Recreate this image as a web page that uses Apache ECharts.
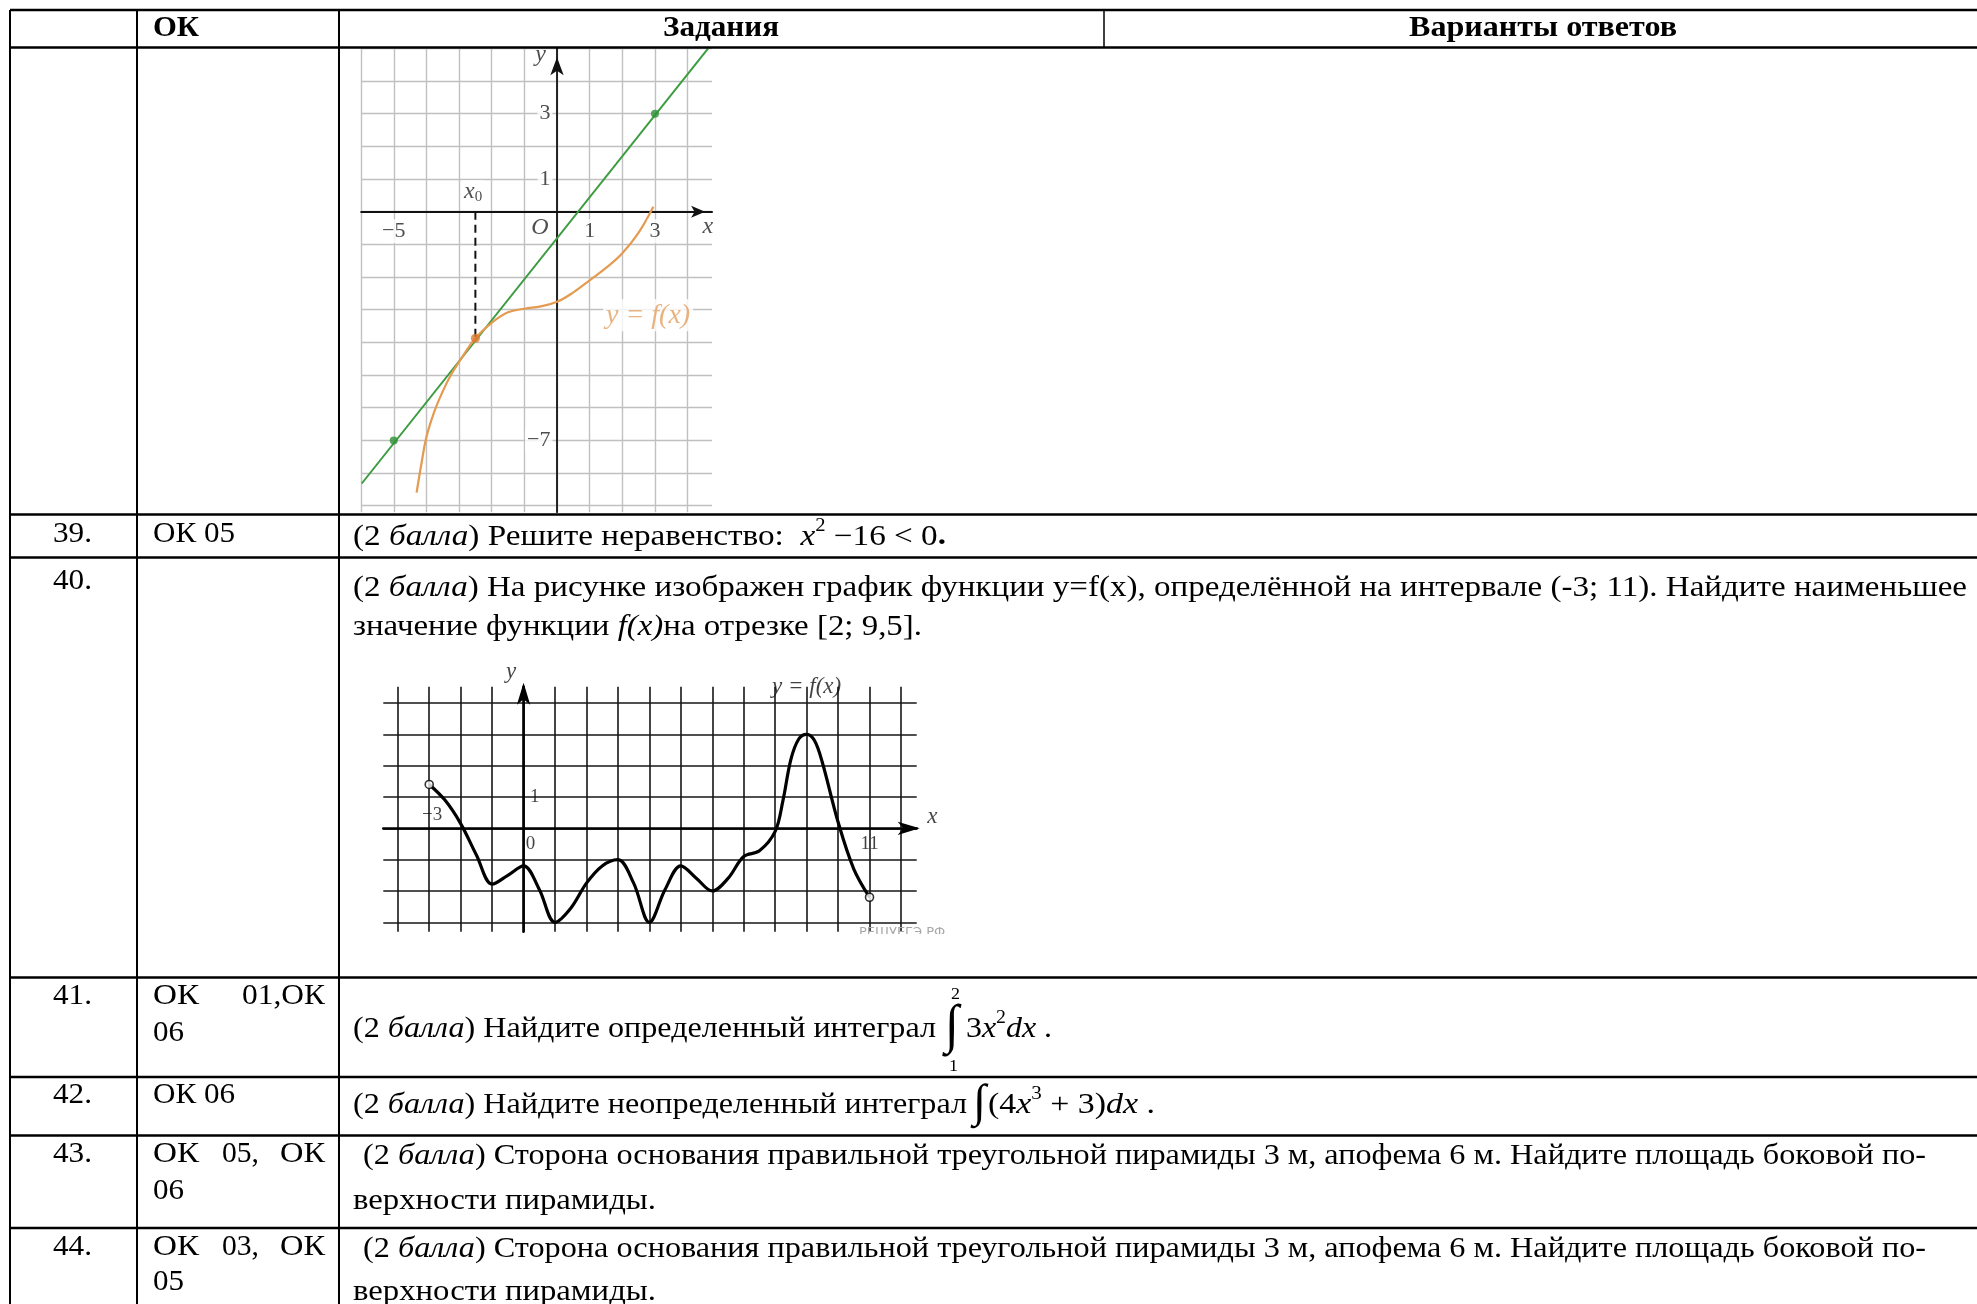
<!DOCTYPE html>
<html>
<head>
<meta charset="utf-8">
<script src="https://cdn.jsdelivr.net/npm/echarts@6.0.0/dist/echarts.min.js"></script>
<style>
  html, body { margin: 0; padding: 0; background: #fff; }
  #main { width: 1977px; height: 1304px; }
</style>
</head>
<body>
<div id="main"></div>
<script>
const FONT = '"Liberation Serif", "Times New Roman", serif';

// ---- график 1: касательная к y = f(x) в точке x0
const tangentLine = [[-5.98, -8.32], [4.63, 5.0]];
const tangentDots = [[-5, -7], [3, 3]];
const f1x = [-4.3, -4.15, -4.0, -3.75, -3.5, -3.25, -3.0, -2.5, -2.0, -1.5, -1.0, -0.5, 0, 0.5, 1.0, 1.5, 2.0, 2.5, 2.95];
const f1y = [-8.6, -7.7, -6.9, -6.1, -5.5, -5.0, -4.6, -3.875, -3.4, -3.08, -2.97, -2.9, -2.76, -2.47, -2.1, -1.72, -1.27, -0.64, 0.15];
const x0Point = [-2.5, -3.875];
const g1X = [-6, 4.75];
const g1Y = [-9.2, 5];
const g1XLabels = [-5, 1, 3];
const g1YLabels = [3, 1, -7];

// ---- график 2: y = f(x) на (-3; 11)
const f2x = [-3, -2.5, -2, -1.5, -1, -0.5, 0, 0.5, 1, 1.5, 2, 2.5, 3, 3.5, 4, 4.5, 5, 5.5, 6, 6.5, 7, 7.5, 8, 8.25, 8.5, 8.75, 9, 9.25, 9.5, 10, 10.5, 11];
const f2y = [1.4, 0.9, 0.15, -0.85, -1.78, -1.5, -1.2, -1.95, -3.0, -2.55, -1.75, -1.2, -1.0, -1.75, -3.0, -1.95, -1.2, -1.6, -2.0, -1.6, -0.9, -0.72, -0.1, 0.9, 2.2, 2.85, 3.0, 2.8, 2.1, 0.2, -1.3, -2.2];
const g2X = [-4.46, 12.5];
const g2Y = [-3.3, 4.52];
const g2XLabels = [0, 11];
const g2YLabels = [1];

// ---- таблица
const rowLines = [10, 47.5, 514.5, 557.5, 977.5, 1077, 1135.5, 1228];
const colLines = [10, 137, 339];
const headSplit = 1104;

// стили текста
const ST = {
  n: {size: 29},
  i: {size: 29, style: 'italic'},
  b: {size: 29, weight: 'bold'},
  h: {size: 29, weight: 'bold'},
  sup: {size: 18, dy: -11},
  int1: {size: 54},
  int2: {size: 46},
  lim: {size: 17}
};

// [сегменты, x0, x1, y]
const headTexts = [
  [[['ОК', 'h']], 153, 199, 29],
  [[['Задания', 'h']], 663, 779, 29],
  [[['Варианты ответов', 'h']], 1409, 1677, 29]
];
const numTexts = [['39.', 534], ['40.', 581], ['41.', 996], ['42.', 1095], ['43.', 1154], ['44.', 1247]];
const okTexts = [
  ['ОК 05', 153, 235, 534],
  ['ОК', 153, 199, 996], ['01,ОК', 242, 325, 996], ['06', 153, 184, 1033],
  ['ОК 06', 153, 235, 1095],
  ['ОК', 153, 199, 1154], ['05,', 222, 259, 1154], ['ОК', 280, 325, 1154], ['06', 153, 184, 1191],
  ['ОК', 153, 199, 1247], ['03,', 222, 259, 1247], ['ОК', 280, 325, 1247], ['05', 153, 184, 1282]
];
const bal = [['(2 ', 'n'], ['балла', 'i']];
const taskTexts = [
  [bal.concat([[') Решите неравенство:  ', 'n'], ['x', 'i'], ['2', 'sup'], [' −16 < 0', 'n'], ['.', 'b']]), 353, 946, 537],
  [bal.concat([[') На рисунке изображен график функции y=f(x), определённой на интервале (-3; 11). Найдите наименьшее', 'n']]), 353, 1967, 588],
  [[['значение функции ', 'n'], ['f(x)', 'i'], ['на отрезке [2; 9,5].', 'n']], 353, 922, 627],
  [bal.concat([[') Найдите определенный интеграл', 'n']]), 353, 936, 1029],
  [[['∫', 'int1']], 945, 959, 1028],
  [[['2', 'lim']], 951, 960, 995],
  [[['1', 'lim']], 949, 958, 1067],
  [[['3', 'n'], ['x', 'i'], ['2', 'sup'], ['dx', 'i'], [' .', 'n']], 966, 1052, 1029],
  [bal.concat([[') Найдите неопределенный интеграл', 'n']]), 353, 967, 1105],
  [[['∫', 'int2']], 973, 986, 1104],
  [[['(4', 'n'], ['x', 'i'], ['3', 'sup'], [' + 3)', 'n'], ['dx', 'i'], [' .', 'n']], 988, 1155, 1105],
  [bal.concat([[') Сторона основания правильной треугольной пирамиды 3 м, апофема 6 м. Найдите площадь боковой по-', 'n']]), 363, 1926, 1156],
  [[['верхности пирамиды.', 'n']], 353, 656, 1201],
  [bal.concat([[') Сторона основания правильной треугольной пирамиды 3 м, апофема 6 м. Найдите площадь боковой по-', 'n']]), 363, 1926, 1249],
  [[['верхности пирамиды.', 'n']], 353, 656, 1292]
];

const ctx = document.createElement('canvas').getContext('2d');
function fontOf(s) {
  return (s.style || 'normal') + ' ' + (s.weight || 'normal') + ' ' + s.size + 'px ' + FONT;
}
// строка текста, растянутая по ширине x0..x1
function textLine(segs, x0, x1, y) {
  const ws = segs.map(([t, k]) => { ctx.font = fontOf(ST[k]); return ctx.measureText(t).width; });
  const total = ws.reduce((a, b) => a + b, 0);
  const sx = (x1 - x0) / total;
  let cx = x0;
  return segs.map(([t, k], i) => {
    const s = ST[k];
    const el = {
      type: 'text', x: cx, y: y + (s.dy || 0), scaleX: sx, z: 10, silent: true,
      style: {text: t, font: fontOf(s), fill: '#000', textAlign: 'left', textVerticalAlign: 'middle', align: 'left', verticalAlign: 'middle'}
    };
    cx += ws[i] * sx;
    return el;
  });
}

const elements = [];
rowLines.forEach(y => elements.push({type: 'line', z: 20, shape: {x1: 10, y1: y, x2: 1977, y2: y}, style: {stroke: '#000', lineWidth: 2.5}}));
colLines.forEach(x => elements.push({type: 'line', z: 20, shape: {x1: x, y1: 10, x2: x, y2: 1304}, style: {stroke: '#000', lineWidth: 2}}));
elements.push({type: 'line', z: 20, shape: {x1: headSplit, y1: 10, x2: headSplit, y2: 47.5}, style: {stroke: '#000', lineWidth: 1.5}});

headTexts.forEach(t => elements.push(...textLine(t[0], t[1], t[2], t[3])));
numTexts.forEach(t => elements.push(...textLine([[t[0], 'n']], 53, 92, t[1])));
okTexts.forEach(t => elements.push(...textLine([[t[0], 'n']], t[1], t[2], t[3])));
taskTexts.forEach(t => elements.push(...textLine(t[0], t[1], t[2], t[3])));

// водяной знак (обрезан снизу) и обрезка подписи оси x графика 1
elements.push({type: 'text', x: 859, y: 926, z: 30, style: {text: 'РЕШУЕГЭ.РФ', font: '13px "DejaVu Sans", sans-serif', fill: '#a8a8a8', textVerticalAlign: 'top', verticalAlign: 'top'}});
elements.push({type: 'rect', z: 40, shape: {x: 850, y: 934, width: 110, height: 20}, style: {fill: '#fff'}});
elements.push({type: 'rect', z: 40, shape: {x: 713, y: 195, width: 40, height: 50}, style: {fill: '#fff'}});

const minus = v => String(v).replace('-', '−');
const RICH = {
  i: {fontFamily: FONT, fontStyle: 'italic', fontSize: 24, color: '#222'},
  s: {fontFamily: FONT, fontSize: 15, color: '#222', verticalAlign: 'bottom', padding: [9, 0, 0, 0]},
  of: {fontFamily: FONT, fontStyle: 'italic', fontSize: 28, color: '#e4a062', backgroundColor: '#fff', padding: [2, 3]},
  w: {fontFamily: FONT, fontSize: 22, color: '#222', backgroundColor: '#fff', padding: [1, 2]},
  k: {fontFamily: FONT, fontStyle: 'italic', fontSize: 23, color: '#111'},
  d: {fontFamily: FONT, fontSize: 19, color: '#111'}
};
// подписи в координатах данных
function labelSeries(items, idx) {
  return {
    type: 'scatter', xAxisIndex: idx, yAxisIndex: idx, symbolSize: 1, silent: true, clip: false, z: 6,
    itemStyle: {color: 'rgba(0,0,0,0)'},
    data: items.map(a => ({value: a.v, label: Object.assign({show: true, position: 'inside', formatter: a.t}, a.o || {})})),
    label: {show: true, fontFamily: FONT, fontSize: 20, color: '#222', rich: RICH}
  };
}
const labels1 = [].concat(
  g1XLabels.map(v => ({v: [v, 0], t: '{w|' + minus(v) + '}', o: {position: 'bottom', distance: 7}})),
  g1YLabels.map(v => ({v: [0, v], t: '{w|' + minus(v) + '}', o: {position: 'left', distance: 4}})),
  [
    {v: [-0.5, 4.8], t: '{i|y}'},
    {v: [-2.57, 0.6], t: '{i|x}{s|0}', o: {backgroundColor: '#fff', padding: [0, 2]}},
    {v: [-0.52, -0.5], t: '{i|O}'},
    {v: [4.62, -0.47], t: '{i|x}'},
    {v: [2.79, -3.17], t: '{of|y = f(x)}'}
  ]
);
const labels2 = [].concat(
  g2XLabels.map(v => ({v: [v, 0], t: '{d|' + v + '}', o: {position: 'bottom', distance: 6, offset: [v === 0 ? 7 : 0, 0]}})),
  g2YLabels.map(v => ({v: [0, v], t: '{d|' + v + '}', o: {position: 'right', distance: 6}})),
  [
    {v: [-0.4, 5.0], t: '{k|y}'},
    {v: [9.0, 4.5], t: '{k|y = f(x)}'},
    {v: [-2.91, 0.42], t: '{d|−3}'},
    {v: [13.0, 0.37], t: '{k|x}'}
  ]
);

function valAxis(gi, range, extra) {
  return Object.assign({
    type: 'value', gridIndex: gi, min: range[0], max: range[1],
    minInterval: 1, maxInterval: 1, splitNumber: 15,
    axisTick: {show: false}, axisLabel: {show: false}
  }, extra);
}
const g1Split = {color: '#c0c0c0', width: 1.4};
const g2Split = {color: '#161616', width: 1.6};

const option = {
  animation: false,
  grid: [
    {left: 361.1, top: 48.35, width: 351, height: 463.9, containLabel: false, outerBoundsMode: 'none'},
    {left: 383.3, top: 686.7, width: 533.4, height: 245, containLabel: false, outerBoundsMode: 'none'}
  ],
  xAxis: [
    valAxis(0, g1X, {
      axisLine: {onZero: true, symbol: ['none', 'arrow'], symbolSize: [9, 14], symbolOffset: [0, -7], lineStyle: {color: '#111', width: 1.8}},
      splitLine: {show: true, showMaxLine: false, lineStyle: g1Split}
    }),
    valAxis(1, g2X, {
      axisLine: {onZero: true, symbol: ['none', 'arrow'], symbolSize: [10, 22], symbolOffset: [0, 3], lineStyle: {color: '#000', width: 2.6}},
      splitLine: {show: true, showMinLine: false, showMaxLine: false, lineStyle: g2Split}
    })
  ],
  yAxis: [
    valAxis(0, g1Y, {
      axisLine: {onZero: true, symbol: ['none', 'arrow'], symbolSize: [10, 18], symbolOffset: [0, -9], lineStyle: {color: '#111', width: 1.8}},
      splitLine: {show: true, showMinLine: false, lineStyle: g1Split}
    }),
    valAxis(1, g2Y, {
      axisLine: {onZero: true, symbol: ['none', 'arrow'], symbolSize: [10, 22], symbolOffset: [0, 4], lineStyle: {color: '#000', width: 2.6}},
      splitLine: {show: true, showMinLine: false, showMaxLine: false, lineStyle: g2Split}
    })
  ],
  series: [
    {type: 'line', xAxisIndex: 0, yAxisIndex: 0, data: tangentLine, symbol: 'none', lineStyle: {color: '#3c9c40', width: 2}, z: 3},
    {type: 'scatter', xAxisIndex: 0, yAxisIndex: 0, data: tangentDots, symbolSize: 8, itemStyle: {color: '#2f9036'}, z: 4},
    {type: 'line', xAxisIndex: 0, yAxisIndex: 0, data: f1x.map((x, i) => [x, f1y[i]]), smooth: 0.4, symbol: 'none', lineStyle: {color: '#e49a50', width: 2.2}, z: 3},
    {type: 'line', xAxisIndex: 0, yAxisIndex: 0, data: [[x0Point[0], 0], x0Point], symbol: 'none', lineStyle: {color: '#111', width: 2, type: [8, 5]}, z: 3},
    {type: 'scatter', xAxisIndex: 0, yAxisIndex: 0, data: [x0Point], symbolSize: 9, itemStyle: {color: '#e07a2e'}, z: 5},
    labelSeries(labels1, 0),
    {type: 'line', xAxisIndex: 1, yAxisIndex: 1, data: f2x.map((x, i) => [x, f2y[i]]), smooth: 0.35, symbol: 'none', lineStyle: {color: '#000', width: 3.2}, z: 3},
    {type: 'scatter', xAxisIndex: 1, yAxisIndex: 1, data: [[f2x[0], f2y[0]], [f2x[f2x.length - 1], f2y[f2y.length - 1]]],
      symbol: 'circle', symbolSize: 8, itemStyle: {color: '#fff', borderColor: '#000', borderWidth: 1.6}, z: 5},
    labelSeries(labels2, 1)
  ],
  graphic: {elements: elements}
};

const chart = echarts.init(document.getElementById('main'));
chart.setOption(option);
</script>
</body>
</html>
